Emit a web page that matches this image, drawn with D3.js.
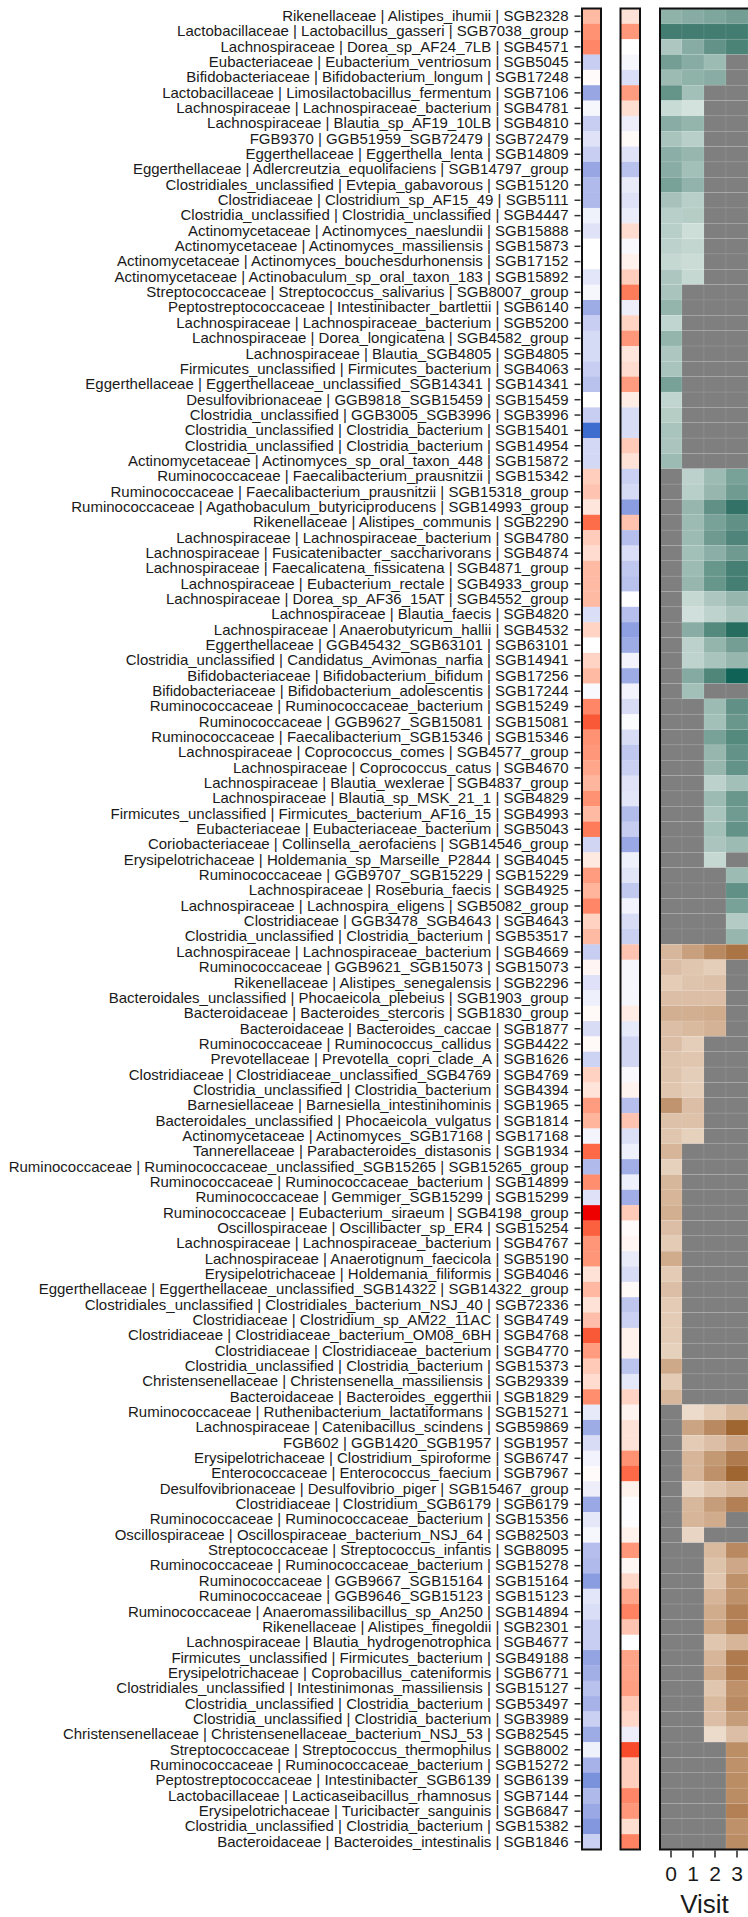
<!DOCTYPE html>
<html>
<head>
<meta charset="utf-8">
<script src="https://cdn.jsdelivr.net/npm/d3@7"></script>
<style>
  html, body { margin: 0; padding: 0; background: #fff; overflow: hidden; }
  svg { display: block; }
  text { font-family: "Liberation Sans", Arial, Helvetica, sans-serif; }
</style>
</head>
<body>
<div id="chart"></div>
<script>
// Taxa (family | species | SGB), top to bottom
const taxa = [
  "Rikenellaceae | Alistipes_ihumii | SGB2328",
  "Lactobacillaceae | Lactobacillus_gasseri | SGB7038_group",
  "Lachnospiraceae | Dorea_sp_AF24_7LB | SGB4571",
  "Eubacteriaceae | Eubacterium_ventriosum | SGB5045",
  "Bifidobacteriaceae | Bifidobacterium_longum | SGB17248",
  "Lactobacillaceae | Limosilactobacillus_fermentum | SGB7106",
  "Lachnospiraceae | Lachnospiraceae_bacterium | SGB4781",
  "Lachnospiraceae | Blautia_sp_AF19_10LB | SGB4810",
  "FGB9370 | GGB51959_SGB72479 | SGB72479",
  "Eggerthellaceae | Eggerthella_lenta | SGB14809",
  "Eggerthellaceae | Adlercreutzia_equolifaciens | SGB14797_group",
  "Clostridiales_unclassified | Evtepia_gabavorous | SGB15120",
  "Clostridiaceae | Clostridium_sp_AF15_49 | SGB5111",
  "Clostridia_unclassified | Clostridia_unclassified | SGB4447",
  "Actinomycetaceae | Actinomyces_naeslundii | SGB15888",
  "Actinomycetaceae | Actinomyces_massiliensis | SGB15873",
  "Actinomycetaceae | Actinomyces_bouchesdurhonensis | SGB17152",
  "Actinomycetaceae | Actinobaculum_sp_oral_taxon_183 | SGB15892",
  "Streptococcaceae | Streptococcus_salivarius | SGB8007_group",
  "Peptostreptococcaceae | Intestinibacter_bartlettii | SGB6140",
  "Lachnospiraceae | Lachnospiraceae_bacterium | SGB5200",
  "Lachnospiraceae | Dorea_longicatena | SGB4582_group",
  "Lachnospiraceae | Blautia_SGB4805 | SGB4805",
  "Firmicutes_unclassified | Firmicutes_bacterium | SGB4063",
  "Eggerthellaceae | Eggerthellaceae_unclassified_SGB14341 | SGB14341",
  "Desulfovibrionaceae | GGB9818_SGB15459 | SGB15459",
  "Clostridia_unclassified | GGB3005_SGB3996 | SGB3996",
  "Clostridia_unclassified | Clostridia_bacterium | SGB15401",
  "Clostridia_unclassified | Clostridia_bacterium | SGB14954",
  "Actinomycetaceae | Actinomyces_sp_oral_taxon_448 | SGB15872",
  "Ruminococcaceae | Faecalibacterium_prausnitzii | SGB15342",
  "Ruminococcaceae | Faecalibacterium_prausnitzii | SGB15318_group",
  "Ruminococcaceae | Agathobaculum_butyriciproducens | SGB14993_group",
  "Rikenellaceae | Alistipes_communis | SGB2290",
  "Lachnospiraceae | Lachnospiraceae_bacterium | SGB4780",
  "Lachnospiraceae | Fusicatenibacter_saccharivorans | SGB4874",
  "Lachnospiraceae | Faecalicatena_fissicatena | SGB4871_group",
  "Lachnospiraceae | Eubacterium_rectale | SGB4933_group",
  "Lachnospiraceae | Dorea_sp_AF36_15AT | SGB4552_group",
  "Lachnospiraceae | Blautia_faecis | SGB4820",
  "Lachnospiraceae | Anaerobutyricum_hallii | SGB4532",
  "Eggerthellaceae | GGB45432_SGB63101 | SGB63101",
  "Clostridia_unclassified | Candidatus_Avimonas_narfia | SGB14941",
  "Bifidobacteriaceae | Bifidobacterium_bifidum | SGB17256",
  "Bifidobacteriaceae | Bifidobacterium_adolescentis | SGB17244",
  "Ruminococcaceae | Ruminococcaceae_bacterium | SGB15249",
  "Ruminococcaceae | GGB9627_SGB15081 | SGB15081",
  "Ruminococcaceae | Faecalibacterium_SGB15346 | SGB15346",
  "Lachnospiraceae | Coprococcus_comes | SGB4577_group",
  "Lachnospiraceae | Coprococcus_catus | SGB4670",
  "Lachnospiraceae | Blautia_wexlerae | SGB4837_group",
  "Lachnospiraceae | Blautia_sp_MSK_21_1 | SGB4829",
  "Firmicutes_unclassified | Firmicutes_bacterium_AF16_15 | SGB4993",
  "Eubacteriaceae | Eubacteriaceae_bacterium | SGB5043",
  "Coriobacteriaceae | Collinsella_aerofaciens | SGB14546_group",
  "Erysipelotrichaceae | Holdemania_sp_Marseille_P2844 | SGB4045",
  "Ruminococcaceae | GGB9707_SGB15229 | SGB15229",
  "Lachnospiraceae | Roseburia_faecis | SGB4925",
  "Lachnospiraceae | Lachnospira_eligens | SGB5082_group",
  "Clostridiaceae | GGB3478_SGB4643 | SGB4643",
  "Clostridia_unclassified | Clostridia_bacterium | SGB53517",
  "Lachnospiraceae | Lachnospiraceae_bacterium | SGB4669",
  "Ruminococcaceae | GGB9621_SGB15073 | SGB15073",
  "Rikenellaceae | Alistipes_senegalensis | SGB2296",
  "Bacteroidales_unclassified | Phocaeicola_plebeius | SGB1903_group",
  "Bacteroidaceae | Bacteroides_stercoris | SGB1830_group",
  "Bacteroidaceae | Bacteroides_caccae | SGB1877",
  "Ruminococcaceae | Ruminococcus_callidus | SGB4422",
  "Prevotellaceae | Prevotella_copri_clade_A | SGB1626",
  "Clostridiaceae | Clostridiaceae_unclassified_SGB4769 | SGB4769",
  "Clostridia_unclassified | Clostridia_bacterium | SGB4394",
  "Barnesiellaceae | Barnesiella_intestinihominis | SGB1965",
  "Bacteroidales_unclassified | Phocaeicola_vulgatus | SGB1814",
  "Actinomycetaceae | Actinomyces_SGB17168 | SGB17168",
  "Tannerellaceae | Parabacteroides_distasonis | SGB1934",
  "Ruminococcaceae | Ruminococcaceae_unclassified_SGB15265 | SGB15265_group",
  "Ruminococcaceae | Ruminococcaceae_bacterium | SGB14899",
  "Ruminococcaceae | Gemmiger_SGB15299 | SGB15299",
  "Ruminococcaceae | Eubacterium_siraeum | SGB4198_group",
  "Oscillospiraceae | Oscillibacter_sp_ER4 | SGB15254",
  "Lachnospiraceae | Lachnospiraceae_bacterium | SGB4767",
  "Lachnospiraceae | Anaerotignum_faecicola | SGB5190",
  "Erysipelotrichaceae | Holdemania_filiformis | SGB4046",
  "Eggerthellaceae | Eggerthellaceae_unclassified_SGB14322 | SGB14322_group",
  "Clostridiales_unclassified | Clostridiales_bacterium_NSJ_40 | SGB72336",
  "Clostridiaceae | Clostridium_sp_AM22_11AC | SGB4749",
  "Clostridiaceae | Clostridiaceae_bacterium_OM08_6BH | SGB4768",
  "Clostridiaceae | Clostridiaceae_bacterium | SGB4770",
  "Clostridia_unclassified | Clostridia_bacterium | SGB15373",
  "Christensenellaceae | Christensenella_massiliensis | SGB29339",
  "Bacteroidaceae | Bacteroides_eggerthii | SGB1829",
  "Ruminococcaceae | Ruthenibacterium_lactatiformans | SGB15271",
  "Lachnospiraceae | Catenibacillus_scindens | SGB59869",
  "FGB602 | GGB1420_SGB1957 | SGB1957",
  "Erysipelotrichaceae | Clostridium_spiroforme | SGB6747",
  "Enterococcaceae | Enterococcus_faecium | SGB7967",
  "Desulfovibrionaceae | Desulfovibrio_piger | SGB15467_group",
  "Clostridiaceae | Clostridium_SGB6179 | SGB6179",
  "Ruminococcaceae | Ruminococcaceae_bacterium | SGB15356",
  "Oscillospiraceae | Oscillospiraceae_bacterium_NSJ_64 | SGB82503",
  "Streptococcaceae | Streptococcus_infantis | SGB8095",
  "Ruminococcaceae | Ruminococcaceae_bacterium | SGB15278",
  "Ruminococcaceae | GGB9667_SGB15164 | SGB15164",
  "Ruminococcaceae | GGB9646_SGB15123 | SGB15123",
  "Ruminococcaceae | Anaeromassilibacillus_sp_An250 | SGB14894",
  "Rikenellaceae | Alistipes_finegoldii | SGB2301",
  "Lachnospiraceae | Blautia_hydrogenotrophica | SGB4677",
  "Firmicutes_unclassified | Firmicutes_bacterium | SGB49188",
  "Erysipelotrichaceae | Coprobacillus_cateniformis | SGB6771",
  "Clostridiales_unclassified | Intestinimonas_massiliensis | SGB15127",
  "Clostridia_unclassified | Clostridia_bacterium | SGB53497",
  "Clostridia_unclassified | Clostridia_bacterium | SGB3989",
  "Christensenellaceae | Christensenellaceae_bacterium_NSJ_53 | SGB82545",
  "Streptococcaceae | Streptococcus_thermophilus | SGB8002",
  "Ruminococcaceae | Ruminococcaceae_bacterium | SGB15272",
  "Peptostreptococcaceae | Intestinibacter_SGB6139 | SGB6139",
  "Lactobacillaceae | Lacticaseibacillus_rhamnosus | SGB7144",
  "Erysipelotrichaceae | Turicibacter_sanguinis | SGB6847",
  "Clostridia_unclassified | Clostridia_bacterium | SGB15382",
  "Bacteroidaceae | Bacteroides_intestinalis | SGB1846"
];

// Signed association, first annotation column (blue < 0 < red)
const effectA = [
   0.35,  0.55,  0.60, -0.30,  0.02, -0.55, -0.05, -0.30, -0.17, -0.30,
  -0.55, -0.42, -0.43, -0.08, -0.17,  0.00,  0.00, -0.15, -0.05, -0.52,
  -0.30, -0.22, -0.22, -0.30, -0.38,  0.00, -0.30, -0.95, -0.24, -0.24,
   0.25,  0.30,  0.13,  0.72,  0.26,  0.18,  0.35,  0.35,  0.35, -0.20,
   0.22,  0.00,  0.22,  0.35, -0.03,  0.60,  0.80,  0.55,  0.52,  0.45,
   0.37,  0.55,  0.35,  0.65, -0.26,  0.11,  0.50,  0.38,  0.60,  0.23,
   0.35, -0.30,  0.05, -0.18, -0.09,  0.03, -0.21,  0.03, -0.27,  0.23,
   0.14,  0.50,  0.38, -0.06,  0.73, -0.42,  0.57, -0.18,  1.00,  0.77,
   0.53,  0.53,  0.15,  0.36,  0.15,  0.33,  0.80,  0.50,  0.27,  0.18,
   0.57, -0.13, -0.52, -0.21, -0.07,  0.02, -0.10, -0.54, -0.14, -0.05,
  -0.40, -0.42, -0.62, -0.15, -0.20, -0.30, -0.30, -0.57, -0.50, -0.38,
  -0.48, -0.29, -0.52, -0.08, -0.48, -0.70, -0.43, -0.54, -0.66, -0.29
];

// Signed association, second annotation column
const effectB = [
   0.15,  0.52,  0.00, -0.05, -0.20,  0.50,  0.17, -0.10,  0.03, -0.17,
  -0.38, -0.12, -0.17, -0.11,  0.18, -0.04,  0.07,  0.25,  0.65, -0.10,
   0.22,  0.52,  0.13,  0.18,  0.50,  0.10, -0.21, -0.21,  0.27,  0.15,
  -0.28, -0.22, -0.62,  0.31, -0.40, -0.20, -0.34, -0.38,  0.00, -0.39,
  -0.60, -0.52, -0.07, -0.52, -0.07, -0.21, -0.02, -0.21, -0.34, -0.29,
  -0.17, -0.15, -0.41, -0.31, -0.54, -0.09, -0.16, -0.33, -0.07, -0.21,
  -0.29,  0.30, -0.05, -0.05, -0.05,  0.10, -0.13, -0.25, -0.25, -0.04,
   0.06, -0.39,  0.30, -0.19, -0.09, -0.50, -0.09, -0.51,  0.27,  0.02,
   0.05, -0.12, -0.21,  0.03, -0.35, -0.28,  0.07,  0.07, -0.36, -0.14,
   0.22,  0.06,  0.15,  0.15,  0.55,  0.73,  0.07, -0.01, -0.01,  0.07,
   0.52,  0.04,  0.20,  0.44,  0.62,  0.30,  0.00,  0.46,  0.46,  0.49,
   0.27,  0.20, -0.10,  0.85,  0.25,  0.25,  0.60,  0.52,  0.17,  0.62
];

// Visits on the x axis
const visits = ["0", "1", "2", "3"];

// Per-visit level for each taxon (null = not detected)
const _ = null;
const visit0 = [
  0.42, 0.78, 0.28, 0.55, 0.36, 0.62, 0.15, 0.45, 0.30, 0.44,
  0.45, 0.53, 0.31, 0.23, 0.23, 0.21, 0.17, 0.28, 0.30, 0.40,
  0.19, 0.40, 0.28, 0.30, 0.53, 0.19, 0.24, 0.30, 0.29, 0.36,
  _, _, _, _, _, _, _, _, _, _,
  _, _, _, _, _, _, _, _, _, _,
  _, _, _, _, _, _, _, _, _, _,
  _, 0.35, 0.30, 0.21, 0.30, 0.40, 0.30, 0.30, 0.26, 0.26,
  0.25, 0.58, 0.28, 0.25, 0.36, 0.18, 0.35, 0.36, 0.40, 0.30,
  0.22, 0.42, 0.22, 0.30, 0.22, 0.22, 0.22, 0.18, 0.44, 0.22,
  0.35, _, _, _, _, _, _, _, _, _,
  _, _, _, _, _, _, _, _, _, _,
  _, _, _, _, _, _, _, _, _, _
];
const visit1 = [
  0.46, 0.78, 0.46, 0.46, 0.42, 0.33, 0.10, 0.40, 0.23, 0.39,
  0.33, 0.41, 0.23, 0.24, 0.13, 0.18, 0.14, 0.17, _, _,
  _, _, _, _, _, _, _, _, _, _,
  0.21, 0.23, 0.39, 0.36, 0.36, 0.33, 0.36, 0.39, 0.17, 0.12,
  0.45, 0.21, 0.20, 0.47, 0.33, _, _, _, _, _,
  _, _, _, _, _, _, _, _, _, _,
  _, 0.50, 0.25, 0.26, 0.30, 0.40, 0.33, 0.20, 0.25, 0.20,
  0.20, 0.30, 0.28, 0.18, _, _, _, _, _, _,
  _, _, _, _, _, _, _, _, _, _,
  _, 0.12, 0.47, 0.22, 0.36, 0.36, 0.15, 0.34, 0.36, 0.15,
  _, _, _, _, _, _, _, _, _, _,
  _, _, _, _, _, _, _, _, _, _
];
const visit2 = [
  0.50, 0.78, 0.63, 0.36, 0.45, _, _, _, _, _,
  _, _, _, _, _, _, _, _, _, _,
  _, _, _, _, _, _, _, _, _, _,
  0.36, 0.39, 0.64, 0.53, 0.58, 0.44, 0.61, 0.61, 0.28, 0.20,
  0.70, 0.40, 0.30, 0.72, _, 0.36, 0.33, 0.53, 0.39, 0.39,
  0.21, 0.36, 0.30, 0.33, 0.29, 0.17, _, _, _, _,
  _, 0.65, 0.20, 0.29, 0.30, 0.42, 0.38, _, _, _,
  _, _, _, _, _, _, _, _, _, _,
  _, _, _, _, _, _, _, _, _, _,
  _, 0.22, 0.65, 0.30, 0.55, 0.60, 0.25, 0.52, 0.42, _,
  0.33, 0.27, 0.25, 0.36, 0.42, 0.46, 0.25, 0.36, 0.42, 0.25,
  0.33, 0.30, 0.12, _, _, _, _, _, _, _
];
const visit3 = [
  0.55, 0.78, 0.74, _, _, _, _, _, _, _,
  _, _, _, _, _, _, _, _, _, _,
  _, _, _, _, _, _, _, _, _, _,
  0.53, 0.57, 0.85, 0.64, 0.73, 0.58, 0.77, 0.77, 0.39, 0.29,
  0.90, 0.55, 0.39, 0.97, _, 0.64, 0.60, 0.70, 0.63, 0.63,
  0.33, 0.60, 0.57, 0.63, 0.36, _, 0.36, 0.64, 0.53, 0.25,
  0.39, 0.80, _, _, _, _, _, _, _, _,
  _, _, _, _, _, _, _, _, _, _,
  _, _, _, _, _, _, _, _, _, _,
  _, 0.34, 0.90, 0.45, 0.75, 0.90, 0.34, 0.72, _, _,
  0.65, 0.45, 0.60, 0.60, 0.72, 0.72, 0.36, 0.75, 0.75, 0.60,
  0.65, 0.52, 0.30, 0.62, 0.60, 0.63, 0.63, 0.72, 0.60, 0.63
];

// Cluster of each taxon: "g" (green palette) or "b" (brown palette)
const cluster = (
  "gggggggggggggggggggggggggggggggggggggggggggggggggggggggggggg" +
  "gbbbbbbbbbbbbbbbbbbbbbbbbbbbbbbbbbbbbbbbbbbbbbbbbbbbbbbbbbbb"
).split("");

const visitValues = [visit0, visit1, visit2, visit3];

// ---- layout ----
const W = 748, H = 1917;
const plotTop = 8.5, plotBottom = 1849.5;

const svg = d3.select("#chart").append("svg")
  .attr("width", W).attr("height", H);

const rows = d3.range(taxa.length);
const y = d3.scaleBand().domain(rows).range([plotTop, plotBottom]).padding(0);

// colour scales
const blueEnd = "#2a66cc", redEnd = "#ee0000";
const divColor = d3.scaleLinear()
  .domain([-1, 0, 1])
  .range([blueEnd, "#ffffff", redEnd])
  .interpolate(d3.interpolateLab);
const greenColor = d3.scaleLinear().domain([0, 1])
  .range(["#eaf2ef", "#005e51"]).interpolate(d3.interpolateLab);
const brownColor = d3.scaleLinear().domain([0, 1])
  .range(["#f6ede3", "#94581f"]).interpolate(d3.interpolateLab);
const naColor = "#7f7f7f";

// ---- annotation columns ----
function annotationColumn(values, x0, x1) {
  const x = d3.scaleBand().domain(["v"]).range([x0, x1]);
  const g = svg.append("g");
  g.selectAll("rect.cell").data(rows).join("rect")
    .attr("class", "cell")
    .attr("x", x("v"))
    .attr("y", i => y(i))
    .attr("width", x.bandwidth())
    .attr("height", y.bandwidth() + 0.3)
    .attr("fill", i => divColor(values[i]));
  g.append("rect")
    .attr("x", x0).attr("y", plotTop)
    .attr("width", x1 - x0).attr("height", plotBottom - plotTop)
    .attr("fill", "none").attr("stroke", "#111").attr("stroke-width", 2);
}
annotationColumn(effectA, 582, 601);
annotationColumn(effectB, 620.5, 640);

// ---- visit heatmap ----
const x = d3.scaleBand().domain(visits).range([660, 748]);
const cells = [];
rows.forEach(i => visits.forEach((v, j) => {
  cells.push({ i, v, val: visitValues[j][i] });
}));
const hm = svg.append("g");
hm.selectAll("rect.cell").data(cells).join("rect")
  .attr("class", "cell")
  .attr("x", d => x(d.v))
  .attr("y", d => y(d.i))
  .attr("width", x.bandwidth())
  .attr("height", y.bandwidth())
  .attr("fill", d => d.val == null ? naColor
    : (cluster[d.i] === "g" ? greenColor(d.val) : brownColor(d.val)))
  .attr("stroke", "rgba(255,255,255,0.13)")
  .attr("stroke-width", 0.6);
hm.append("rect")
  .attr("x", 660).attr("y", plotTop)
  .attr("width", 92).attr("height", plotBottom - plotTop)
  .attr("fill", "none").attr("stroke", "#111").attr("stroke-width", 2);

// ---- y axis (taxon labels) ----
const yAxis = d3.axisLeft(y)
  .tickSize(6).tickPadding(6)
  .tickFormat(i => taxa[i]);
const ya = svg.append("g").attr("transform", "translate(580.5,0)").call(yAxis);
ya.select(".domain").remove();
ya.selectAll(".tick line").attr("stroke", "#333").attr("stroke-width", 1.5);
ya.selectAll(".tick text")
  .attr("fill", "#1a1a1a")
  .style("font-size", "15px")
  .style("font-family", "'Liberation Sans', Arial, Helvetica, sans-serif");

// ---- x axis (visits) ----
const xAxis = d3.axisBottom(x).tickSize(7).tickPadding(9);
const xa = svg.append("g").attr("transform", `translate(0,${plotBottom + 1})`).call(xAxis);
xa.select(".domain").remove();
xa.selectAll(".tick line").attr("stroke", "#333").attr("stroke-width", 1.6);
xa.selectAll(".tick text")
  .attr("fill", "#1a1a1a")
  .style("font-size", "21px")
  .style("font-family", "'Liberation Sans', Arial, Helvetica, sans-serif");

svg.append("text")
  .attr("x", 704.5).attr("y", 1913)
  .attr("text-anchor", "middle")
  .attr("fill", "#1a1a1a")
  .style("font-size", "26px")
  .text("Visit");
</script>
</body>
</html>
